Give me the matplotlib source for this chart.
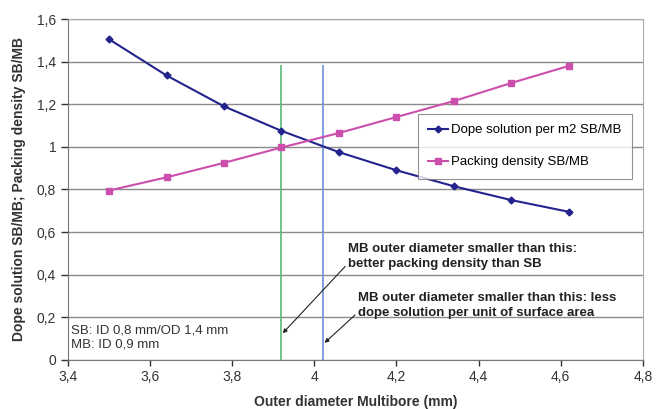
import matplotlib.pyplot as plt
from matplotlib.ticker import FuncFormatter

plt.rcParams['font.family'] = ['Liberation Sans', 'DejaVu Sans']

# Data
outer_diameter = [3.50, 3.64, 3.78, 3.92, 4.06, 4.20, 4.34, 4.48, 4.62]
dope_ratio = [1.505, 1.335, 1.19, 1.075, 0.975, 0.89, 0.815, 0.75, 0.695]
packing_ratio = [0.795, 0.857, 0.925, 0.997, 1.065, 1.14, 1.215, 1.30, 1.38]
packing_limit = 3.92
dope_limit = 4.02
limit_top = 1.385

fig = plt.figure(figsize=(6.6, 4.09), dpi=100)
ax = fig.add_axes([0.103, 0.12, 0.871, 0.8335])

ax.plot(outer_diameter, dope_ratio, color='#23238e', marker='D', markersize=3.5,
        linewidth=1.5, label='Dope solution per m2 SB/MB', zorder=3)
ax.plot(outer_diameter, packing_ratio, color='#cc4fae', marker='s', markersize=5,
        linewidth=1.5, label='Packing density SB/MB', zorder=3)

ax.vlines(packing_limit, 0, limit_top, color='#5cb87a', linewidth=1.2, zorder=2)
ax.vlines(dope_limit, 0, limit_top, color='#6f8fd8', linewidth=1.2, zorder=2)

ax.set_xlim(3.4, 4.8)
ax.set_ylim(0, 1.6)
ax.set_xticks([3.4, 3.6, 3.8, 4.0, 4.2, 4.4, 4.6, 4.8])
ax.set_yticks([0, 0.2, 0.4, 0.6, 0.8, 1.0, 1.2, 1.4, 1.6])
fmt = FuncFormatter(lambda v, p: ('%g' % round(v, 2)).replace('.', ','))
ax.xaxis.set_major_formatter(fmt)
ax.yaxis.set_major_formatter(fmt)
ax.tick_params(labelsize=10, colors='#333333', length=4, width=1)
ax.tick_params(axis='y', length=5)

ax.grid(axis='y', color='#8a8a8a', linewidth=1.0)
ax.set_axisbelow(True)
for s in ['left', 'bottom']:
    ax.spines[s].set_color('#777777')
for s in ['top', 'right']:
    ax.spines[s].set_color('#aaaaaa')

ax.set_xlabel('Outer diameter Multibore (mm)', fontsize=10, fontweight='bold',
              color='#333333', labelpad=8)
ax.set_ylabel('Dope solution SB/MB; Packing density SB/MB', fontsize=10,
              fontweight='bold', color='#333333', labelpad=8)

leg = ax.legend(loc='upper left', bbox_to_anchor=(0.597, 0.742), fontsize=9.5,
                frameon=True, fancybox=False, edgecolor='#777777',
                handlelength=1.5, handletextpad=0.2, borderpad=0.8,
                labelspacing=1.5)
leg.get_frame().set_linewidth(0.8)

ax.text(3.408, 0.045, 'SB: ID 0,8 mm/OD 1,4 mm\nMB: ID 0,9 mm', fontsize=9.5,
        color='#333333', linespacing=1.25, va='bottom')

ax.annotate('MB outer diameter smaller than this:\nbetter packing density than SB',
            xy=(packing_limit + 0.003, 0.125), xytext=(4.082, 0.485),
            fontsize=9.5, fontweight='bold', color='#222222', va='center',
            linespacing=1.35,
            arrowprops=dict(arrowstyle='-|>', color='#222222', lw=0.8,
                            mutation_scale=6, shrinkA=0, shrinkB=0,
                            relpos=(0.0, 0.25)))
ax.annotate('MB outer diameter smaller than this: less\ndope solution per unit of surface area',
            xy=(dope_limit + 0.005, 0.08), xytext=(4.106, 0.255),
            fontsize=9.5, fontweight='bold', color='#222222', va='center',
            linespacing=1.35,
            arrowprops=dict(arrowstyle='-|>', color='#222222', lw=0.8,
                            mutation_scale=6, shrinkA=0, shrinkB=0,
                            relpos=(0.0, 0.25)))

fig.savefig('out.png', dpi=100)
